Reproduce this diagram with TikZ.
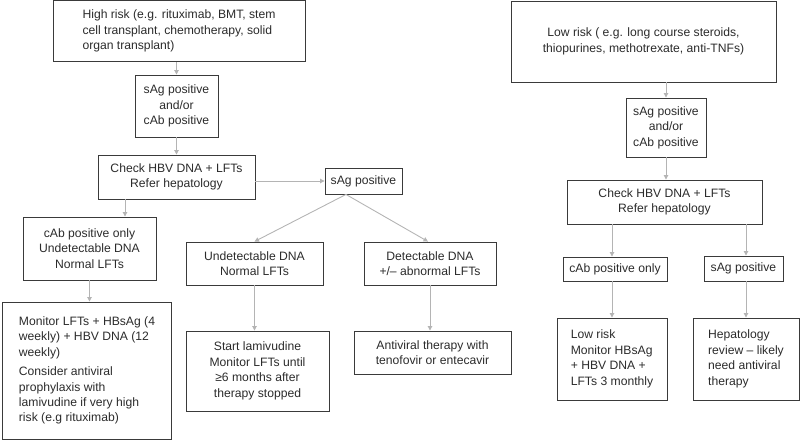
\documentclass[tikz,border=0pt]{standalone}
\usepackage{fontspec}
\setmainfont{Liberation Sans}
\usetikzlibrary{arrows.meta,calc}
\definecolor{txt}{HTML}{2B2B2B}
\definecolor{bord}{HTML}{3A3A3A}
\definecolor{conn}{HTML}{B4B4B4}
\begin{document}
\begin{tikzpicture}[x=1bp,y=-1bp,
  box/.style={draw=bord,line width=0.9bp,inner sep=0pt,text=txt,
    font=\fontsize{12.2}{15.5}\selectfont,align=center},
  lbox/.style={box,align=left},
  arr/.style={draw=conn,line width=0.9bp,-{Triangle[length=4.5bp,width=4.5bp]}}]
\useasboundingbox (0,0) rectangle (800,440);
% left branch
\node[lbox,minimum width=252bp,minimum height=61bp] (A) at (179,31)
  {High risk (e.g. rituximab, BMT, stem\\cell transplant, chemotherapy, solid\\organ transplant)};
\node[box,minimum width=83bp,minimum height=62bp] (B) at (176.5,106)
  {sAg positive\\and/or\\cAb positive};
\node[box,minimum width=157bp,minimum height=44bp] (C) at (176.5,177)
  {Check HBV DNA + LFTs\\Refer hepatology};
\node[box,minimum width=77bp,minimum height=26bp] (D) at (363.5,181)
  {sAg positive};
\node[box,minimum width=133bp,minimum height=63bp] (E) at (89.5,248.5)
  {cAb positive only\\Undetectable DNA\\Normal LFTs};
\node[lbox,minimum width=169bp,minimum height=137bp] (F) at (87,370.5)
  {Monitor LFTs + HBsAg (4\\weekly) + HBV DNA (12\\weekly)\\[4pt]Consider antiviral\\prophylaxis with\\lamivudine if very high\\risk (e.g rituximab)};
\node[box,minimum width=137bp,minimum height=43bp] (G) at (254.5,263.5)
  {Undetectable DNA\\Normal LFTs};
\node[box,minimum width=143bp,minimum height=80bp] (H) at (257.5,371)
  {Start lamivudine\\Monitor LFTs until\\≥6 months after\\therapy stopped};
\node[box,minimum width=132bp,minimum height=43bp] (I) at (430,263.5)
  {Detectable DNA\\+/– abnormal LFTs};
\node[box,minimum width=157bp,minimum height=43bp] (J) at (432.5,352.5)
  {Antiviral therapy with\\tenofovir or entecavir};
% right branch
\node[box,minimum width=265bp,minimum height=81bp] (K) at (643.5,41.5)
  {Low risk ( e.g. long course steroids,\\thiopurines, methotrexate, anti-TNFs)};
\node[box,minimum width=80bp,minimum height=59bp] (L) at (666,127.5)
  {sAg positive\\and/or\\cAb positive};
\node[box,minimum width=195bp,minimum height=44bp] (M) at (664.5,202)
  {Check HBV DNA + LFTs\\Refer hepatology};
\node[box,minimum width=104bp,minimum height=24bp] (N) at (615,269)
  {cAb positive only};
\node[box,minimum width=79bp,minimum height=25bp] (O) at (743.5,268.5)
  {sAg positive};
\node[lbox,minimum width=110bp,minimum height=82bp] (P) at (612,359)
  {Low risk\\Monitor HBsAg\\+ HBV DNA +\\LFTs 3 monthly};
\node[lbox,minimum width=106bp,minimum height=82bp] (Q) at (746,359)
  {Hepatology\\review – likely\\need antiviral\\therapy};
% connectors
\draw[arr] (A.south -| B.north) -- (B.north);
\draw[arr] (B.south) -- (B.south |- C.north);
\draw[arr] (C.east |- D.west) -- (D.west);
\coordinate (Cs) at ([xshift=-51.5bp]C.south);
\draw[arr] (Cs) -- (Cs |- E.north);
\draw[arr] (E.south) -- (E.south |- F.north);
\coordinate (Ds) at ([xshift=-17.5bp]D.south);
\draw[arr] (Ds) -- (G.north);
\draw[arr] (Ds) -- ([xshift=-2bp]I.north);
\draw[arr] (G.south) -- (G.south |- H.north);
\draw[arr] (I.south) -- (I.south |- J.north);
\draw[arr] (K.south -| L.north) -- (L.north);
\draw[arr] (L.south) -- (L.south |- M.north);
\draw[arr] (M.south -| P.north) -- (N.north -| P.north);
\draw[arr] (N.south -| P.north) -- (P.north);
\draw[arr] (M.south -| Q.north) -- (O.north -| Q.north);
\draw[arr] (O.south -| Q.north) -- (Q.north);
\end{tikzpicture}
\end{document}
